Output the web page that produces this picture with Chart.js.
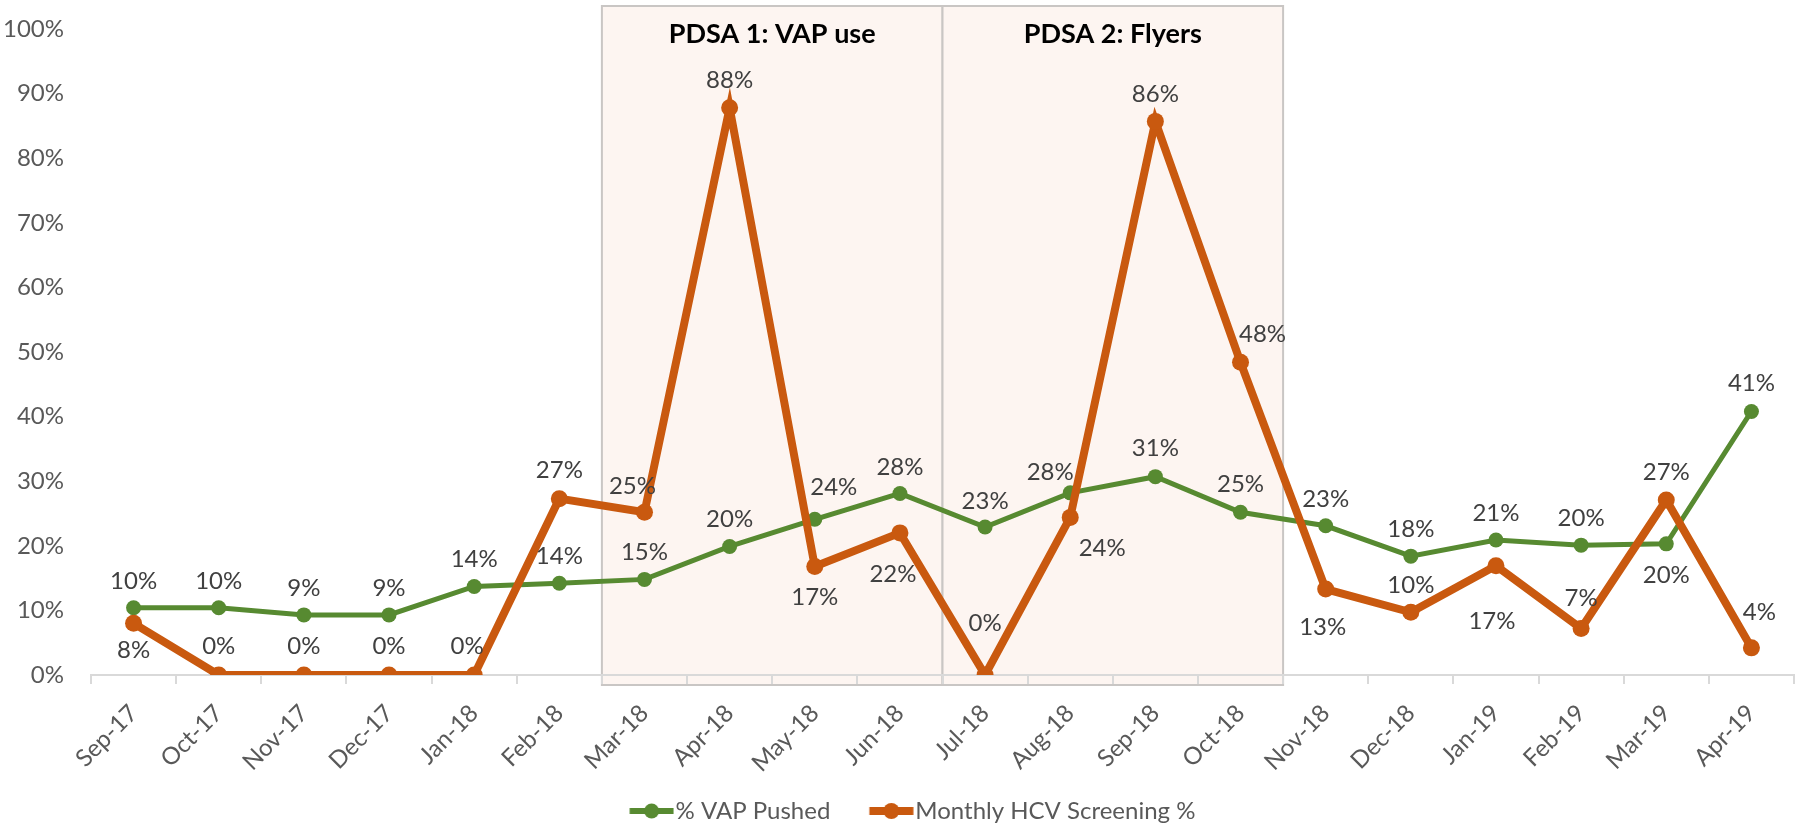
<!DOCTYPE html>
<html>
<head>
<meta charset="utf-8">
<script src="https://cdn.jsdelivr.net/npm/chart.js@4.4.1/dist/chart.umd.min.js"></script>
<style>
  html, body { margin: 0; padding: 0; background: #fff; }
  #wrap { width: 1800px; height: 833px; }
</style>
</head>
<body>
<div id="wrap"><canvas id="chart"></canvas></div>
<script>
const months = ['Sep-17', 'Oct-17', 'Nov-17', 'Dec-17', 'Jan-18', 'Feb-18', 'Mar-18', 'Apr-18', 'May-18', 'Jun-18',
    'Jul-18', 'Aug-18', 'Sep-18', 'Oct-18', 'Nov-18', 'Dec-18', 'Jan-19', 'Feb-19', 'Mar-19', 'Apr-19'];
const vapPushed = [10.4, 10.4, 9.3, 9.3, 13.7, 14.2, 14.8, 19.9, 24.1, 28.1,
    22.9, 28.2, 30.7, 25.2, 23.1, 18.4, 20.9, 20.1, 20.3, 40.8];
const hcvScreening = [8.0, 0, 0, 0, 0, 27.3, 25.2, 87.8, 16.8, 22.0,
    0, 24.4, 85.7, 48.4, 13.3, 9.7, 16.9, 7.2, 27.1, 4.2];
const yTicks = [0, 10, 20, 30, 40, 50, 60, 70, 80, 90, 100];
const phases = [
    { label: 'PDSA 1: VAP use', from: 'Mar-18', to: 'Jun-18' },
    { label: 'PDSA 2: Flyers', from: 'Jul-18', to: 'Oct-18' },
];

// where each value label sits relative to its point, [dx, dy] in px
const vapLabelPos = [[0, -27], [0, -27], [0, -27], [0, -27], [0, -27], [0, -27], [0, -27], [0, -27], [19, -32], [0, -26],
    [0, -26], [-20, -21], [0, -28], [0, -28], [0, -27], [0, -27], [0, -27], [0, -27], [0, 31], [0, -28]];
const hcvLabelPos = [[0, 27], [0, -29], [0, -29], [0, -29], [-7, -29], [0, -28], [-12, -26], [0, -28], [0, 31], [-7, 41],
    [0, -52], [32, 31], [0, -27], [22, -28], [-3, 38], [0, -27], [-4, 55], [0, -30], [0, -28], [8, -36]];

const GREEN = '#578a31';
const ORANGE = '#c9590f';
const FONT = 'Lato';
const FS = 24;

// legend marker: line with a dot; drawn wider than the legend box so it sits right against the text
function legendMarker(color, lineW, r) {
    const c = document.createElement('canvas');
    c.width = 84;
    c.height = 20;
    const g = c.getContext('2d');
    g.strokeStyle = color;
    g.lineWidth = lineW;
    g.beginPath();
    g.moveTo(39.5, 10);
    g.lineTo(83.5, 10);
    g.stroke();
    g.fillStyle = color;
    g.beginPath();
    g.arc(61.5, 10, r, 0, Math.PI * 2);
    g.fill();
    return c;
}

const phaseBoxes = {
    id: 'phaseBoxes',
    beforeDraw(chart) {
        const { ctx, chartArea, scales: { x } } = chart;
        const half = (x.getPixelForValue(1) - x.getPixelForValue(0)) / 2;
        const top = chartArea.top - 23;
        const bottom = chartArea.bottom + 10;
        ctx.save();
        phases.forEach(p => {
            const left = x.getPixelForValue(months.indexOf(p.from)) - half;
            const right = x.getPixelForValue(months.indexOf(p.to)) + half;
            ctx.fillStyle = '#fdf5f1';
            ctx.fillRect(left, top, right - left, bottom - top);
            ctx.strokeStyle = '#c9c6c4';
            ctx.lineWidth = 2;
            ctx.strokeRect(left, top, right - left, bottom - top);
            ctx.fillStyle = '#000';
            ctx.font = 'bold 27px ' + FONT;
            ctx.textAlign = 'center';
            ctx.textBaseline = 'middle';
            ctx.fillText(p.label, (left + right) / 2, top + 28);
        });
        ctx.restore();
    }
};

const valueLabels = {
    id: 'valueLabels',
    afterDatasetsDraw(chart) {
        const { ctx } = chart;
        const pos = [vapLabelPos, hcvLabelPos];
        ctx.save();
        ctx.font = FS + 'px ' + FONT;
        ctx.fillStyle = '#404040';
        ctx.textAlign = 'center';
        ctx.textBaseline = 'middle';
        chart.data.datasets.forEach((ds, i) => {
            chart.getDatasetMeta(i).data.forEach((pt, j) => {
                const [dx, dy] = pos[i][j];
                ctx.fillText(Math.round(ds.data[j]) + '%', pt.x + dx, pt.y + dy);
            });
        });
        ctx.restore();
    }
};

new Chart(document.getElementById('chart'), {
    type: 'line',
    data: {
        labels: months,
        datasets: [{
            label: '% VAP Pushed',
            data: vapPushed,
            borderColor: GREEN,
            backgroundColor: GREEN,
            borderWidth: 5,
            pointRadius: 7.5,
            pointHoverRadius: 7.5,
            pointBorderWidth: 0,
            tension: 0,
            order: 1,
        }, {
            label: 'Monthly HCV Screening %',
            data: hcvScreening,
            borderColor: ORANGE,
            backgroundColor: ORANGE,
            borderWidth: 8,
            pointRadius: 8.5,
            pointHoverRadius: 8.5,
            pointBorderWidth: 0,
            tension: 0,
            order: 0,
        }]
    },
    options: {
        responsive: true,
        maintainAspectRatio: false,
        animation: false,
        layout: { autoPadding: false, padding: { top: 29, left: 2, right: 6, bottom: 0 } },
        plugins: {
            tooltip: { enabled: false },
            legend: {
                position: 'bottom',
                labels: {
                    usePointStyle: true,
                    pointStyleWidth: 63,
                    padding: 10,
                    font: { family: FONT, size: FS },
                    color: '#595959',
                    generateLabels(chart) {
                        return chart.data.datasets.map((ds, i) => ({
                            text: ds.label,
                            datasetIndex: i,
                            pointStyle: legendMarker(ds.borderColor, i ? 8 : 6, i ? 8 : 7.5),
                            fillStyle: 'transparent',
                            strokeStyle: 'transparent',
                            lineWidth: 0,
                            fontColor: '#595959',
                            hidden: false,
                        }));
                    }
                }
            }
        },
        scales: {
            x: {
                offset: true,
                grid: {
                    offset: true,
                    drawOnChartArea: false,
                    drawTicks: true,
                    tickLength: 9,
                    color: '#d9d9d9',
                    lineWidth: 2,
                },
                border: { color: '#d9d9d9', width: 2 },
                ticks: {
                    minRotation: 45,
                    maxRotation: 45,
                    padding: 15,
                    color: '#595959',
                    font: { family: FONT, size: FS },
                },
                afterFit(axis) {
                    // rotated labels have room already; fix the band height
                    axis.paddingLeft = 0;
                    axis.paddingRight = 0;
                    axis.height = 114;
                }
            },
            y: {
                min: 0,
                max: 100,
                afterBuildTicks(axis) {
                    axis.ticks = yTicks.map(v => ({ value: v }));
                },
                grid: { display: false, drawTicks: false },
                border: { display: false },
                ticks: {
                    padding: 27,
                    color: '#595959',
                    font: { family: FONT, size: FS },
                    callback: v => v + '%',
                },
                afterFit(axis) {
                    axis.width = 89;
                    axis.paddingTop = 0;
                    axis.paddingBottom = 0;
                }
            }
        }
    },
    plugins: [phaseBoxes, valueLabels]
});
</script>
</body>
</html>
